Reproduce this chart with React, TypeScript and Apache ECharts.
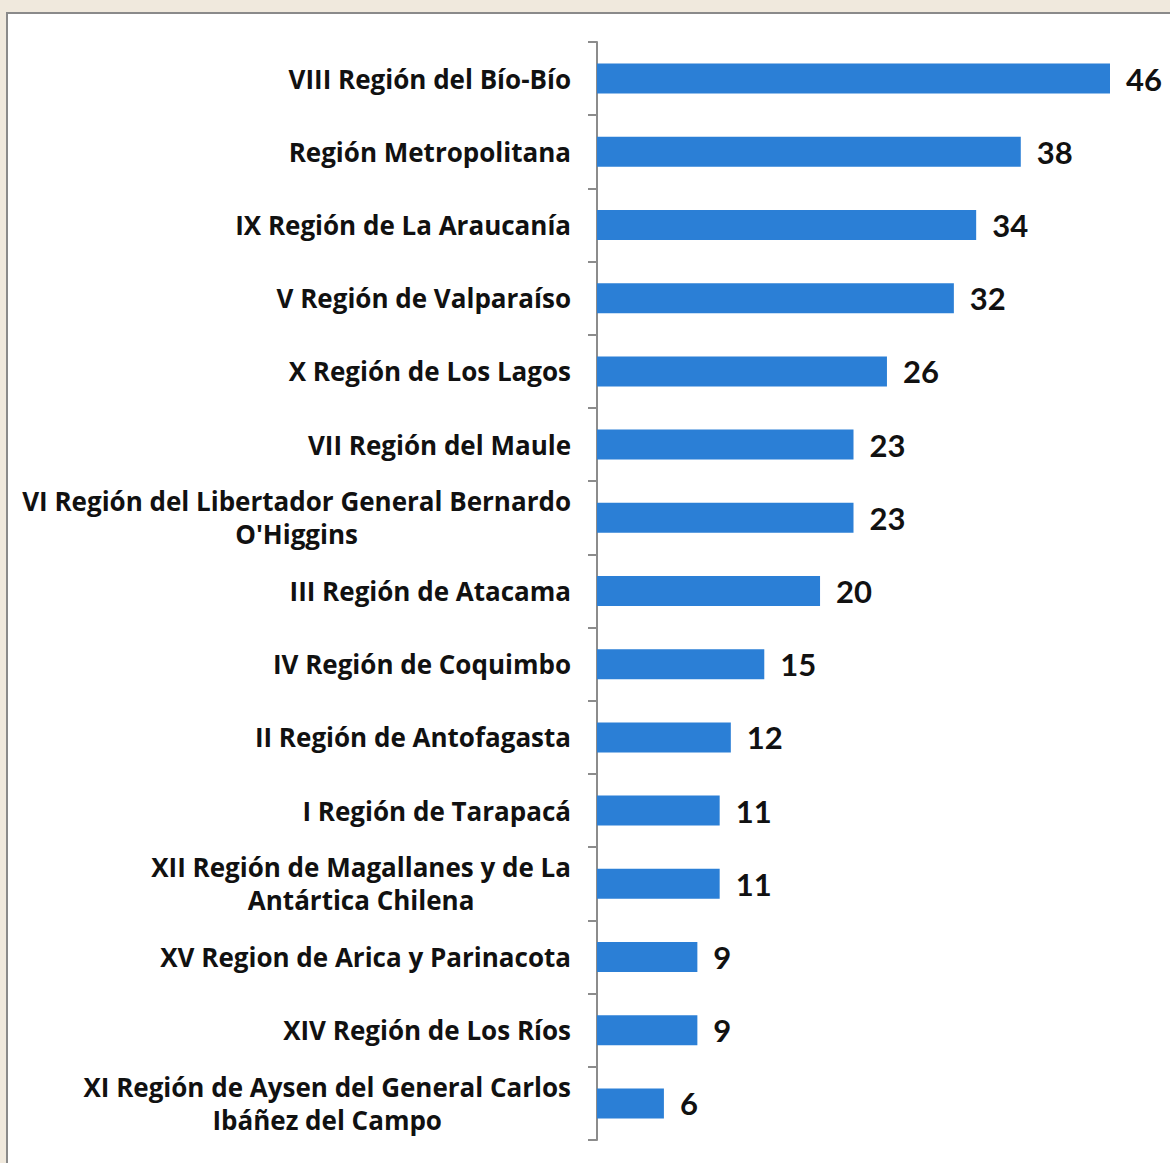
import React, { useEffect, useRef } from "react";
import * as echarts from "echarts";

const categories = [
  "VIII Región del Bío-Bío",
  "Región Metropolitana",
  "IX Región de La Araucanía",
  "V Región de Valparaíso",
  "X Región de Los Lagos",
  "VII Región del Maule",
  "VI Región del Libertador General Bernardo\nO'Higgins",
  "III Región de Atacama",
  "IV Región de Coquimbo",
  "II Región de Antofagasta",
  "I Región de Tarapacá",
  "XII Región de Magallanes y de La\nAntártica Chilena",
  "XV Region de Arica y Parinacota",
  "XIV Región de Los Ríos",
  "XI Región de Aysen del General Carlos\nIbáñez del Campo",
];
const values = [46, 38, 34, 32, 26, 23, 23, 20, 15, 12, 11, 11, 9, 9, 6];

export default function App() {
  const ref = useRef<HTMLDivElement>(null);
  useEffect(() => {
    if (!ref.current) return;
    const chart = echarts.init(ref.current, undefined, { renderer: "svg" });
    chart.setOption({
      animation: false,
      backgroundColor: "transparent",
      grid: { left: 597, right: 60, top: 42, bottom: 23, containLabel: false },
      xAxis: {
        type: "value",
        min: 0,
        max: 46,
        show: false,
      },
      yAxis: {
        type: "category",
        inverse: true,
        data: categories,
        axisLine: { show: true, lineStyle: { color: "#8c8c8c", width: 2 } },
        axisTick: { show: true, length: 9, lineStyle: { color: "#8c8c8c", width: 2 } },
        axisLabel: {
          margin: 26,
          formatter: (v: string) =>
            v
              .split("\n")
              .map((l) => `{c|${l}}`)
              .join("\n"),
          rich: {
            c: {
              align: "center",
              fontFamily: "Open Sans",
              fontWeight: "bold",
              fontSize: 26,
              lineHeight: 33,
              color: "#111",
            },
          },
        },
      },
      series: [
        {
          type: "bar",
          data: values,
          barWidth: 30,
          itemStyle: { color: "#2B7FD6" },
          label: {
            show: true,
            position: "right",
            distance: 16,
            fontFamily: "Lato",
            fontWeight: "bold",
            fontSize: 31,
            color: "#111",
          },
        },
      ],
    });
    return () => chart.dispose();
  }, []);
  return (
    <div
      style={{
        position: "absolute",
        left: 0,
        top: 0,
        width: 1170,
        height: 1163,
        overflow: "hidden",
        background: "#F0E9DD",
      }}
    >
      <div
        style={{
          position: "absolute",
          left: 6,
          top: 12,
          width: 1200,
          height: 1200,
          background: "#fff",
          borderTop: "2px solid #8a8a8a",
          borderLeft: "2px solid #8a8a8a",
        }}
      />
      <div
        ref={ref}
        style={{ position: "absolute", left: 0, top: 0, width: 1170, height: 1163 }}
      />
    </div>
  );
}
